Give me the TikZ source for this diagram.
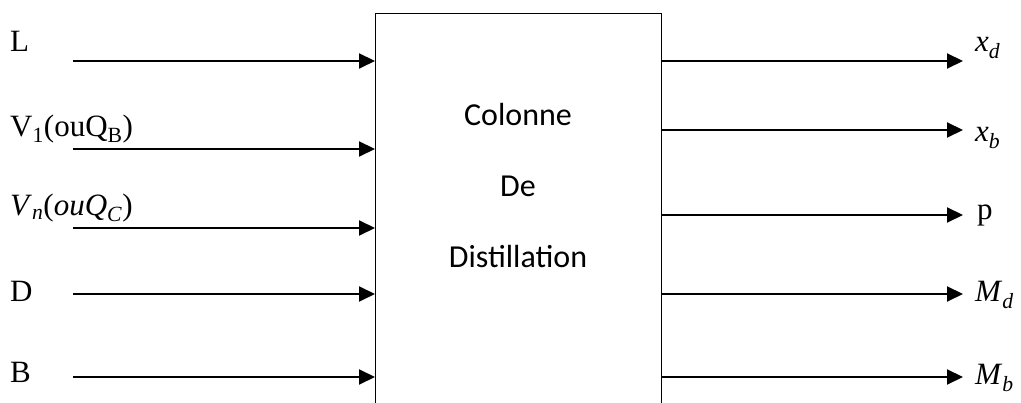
\documentclass[tikz,border=0pt]{standalone}
\usepackage{fontspec}
\setmainfont{Liberation Serif}
\newfontfamily\boxfont{Carlito}
\usetikzlibrary{arrows.meta}
\newcommand{\sym}[2]{\textit{#1}\textsubscript{\textit{#2}}}
\begin{document}
\begin{tikzpicture}[x=1pt,y=-1pt,
  flow/.style={line width=2pt,-{Triangle[length=16pt,width=15pt]}},
  lbl/.style={font=\fontsize{31}{35}\selectfont, inner sep=0pt, anchor=base west},
  boxtxt/.style={font=\boxfont\fontsize{32}{37}\selectfont, inner sep=0pt, anchor=base}]
\useasboundingbox (0,0) rectangle (1021,403);

% column block (open at the bottom edge of the page)
\node[draw, line width=1pt, inner sep=0pt, minimum width=286pt, minimum height=420pt,
      anchor=north west] (col) at (375,13) {};
\node[boxtxt] (t1) at (518,126) {Colonne};
\node[boxtxt] (t2) at (518,197) {De};
\node[boxtxt] (t3) at (518,268) {Distillation};

% inputs
\coordinate (sL)  at (73,61);
\coordinate (sV1) at (73,149);
\coordinate (sVn) at (73,228);
\coordinate (sD)  at (73,294);
\coordinate (sB)  at (73,377);
\foreach \s in {sL,sV1,sVn,sD,sB} \draw[flow] (\s) -- (\s -| col.west);

\node[lbl] (lL)  at (10,52)  {L};
\node[lbl] (lV1) at (10,137) {V\textsubscript{1}(ouQ\textsubscript{B})};
\node[lbl] (lVn) at (10,216) {\sym{V}{n}(\textit{ou}\sym{Q}{C})};
\node[lbl] (lD)  at (10,302) {D};
\node[lbl] (lB)  at (10,383) {B};

% outputs
\coordinate (eXd) at (963,61);
\coordinate (eXb) at (963,130);
\coordinate (eP)  at (963,215);
\coordinate (eMd) at (963,294);
\coordinate (eMb) at (963,377);
\foreach \e in {eXd,eXb,eP,eMd,eMb} \draw[flow] (\e -| col.east) -- (\e);

\node[lbl] (rXd) at (975,52)  {\sym{x}{d}};
\node[lbl] (rXb) at (975,142) {\sym{x}{b}};
\node[lbl] (rP)  at (977,220) {p};
\node[lbl] (rMd) at (975,302) {\sym{M}{d}};
\node[lbl] (rMb) at (975,385) {\sym{M}{b}};
\end{tikzpicture}
\end{document}
